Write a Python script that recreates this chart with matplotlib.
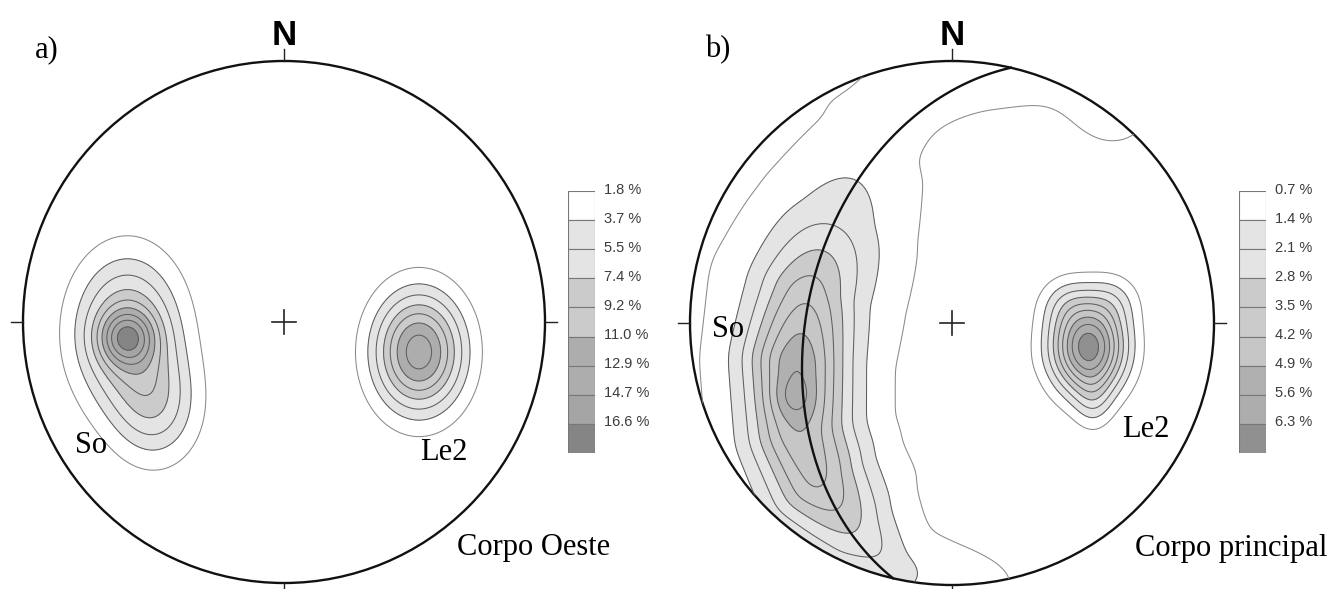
import numpy as np
import matplotlib.pyplot as plt
from matplotlib.patches import Circle

# contour levels (%) shown in the two legends
levels_a = [1.8, 3.7, 5.5, 7.4, 9.2, 11.0, 12.9, 14.7, 16.6]
levels_b = [0.7, 1.4, 2.1, 2.8, 3.5, 4.2, 4.9, 5.6, 6.3]
shades_a = ['#ffffff', '#e4e4e4', '#e4e4e4', '#cbcbcb', '#cbcbcb', '#adadad', '#adadad', '#a5a5a5', '#858585']
shades_b = ['#ffffff', '#e4e4e4', '#e4e4e4', '#cbcbcb', '#cbcbcb', '#c6c6c6', '#b0b0b0', '#adadad', '#909090']

# pole concentrations, a) Corpo Oeste (equal-area net, unit radius)
a_x = [-0.602, -0.60, -0.49, 0.517]
a_y = [-0.061, -0.04, -0.33, -0.115]
a_amp = [7.5, 10.0, 5.5, 14.0]
a_sx = [0.07, 0.14, 0.115, 0.12]
a_sy = [0.07, 0.20, 0.15, 0.16]

# pole concentrations, b) Corpo principal (Le2 maximum + edge wrap of the girdle)
b_x = [0.521, 0.43, 0.62, 0.54, -0.609, 0.25, 0.62, 0.08]
b_y = [-0.092, 0.08, 0.09, -0.30, -0.284, 1.0, 0.82, -1.0]
b_amp = [6.7, 0.9, 0.9, 1.0, 0.8, 1.1, 1.0, 0.55]
b_sx = [0.10, 0.07, 0.07, 0.05, 0.06, 0.30, 0.13, 0.20]
b_sy = [0.125, 0.07, 0.07, 0.08, 0.06, 0.15, 0.13, 0.10]

# So girdle in b): axis of the band, peak density and widths along it
gird_x = [-0.05, -0.300, -0.430, -0.550, -0.590, -0.580, -0.510, -0.364, -0.218]
gird_y = [0.980, 0.701, 0.414, 0.115, -0.142, -0.414, -0.605, -0.797, -0.939]
gird_core = [0.0, 0.0, 0.8, 3.0, 4.6, 3.9, 3.4, 1.9, 0.8]
gird_core_w = [0.12, 0.13, 0.15, 0.13, 0.13, 0.13, 0.13, 0.11, 0.07]
gird_halo = [0.5, 0.95, 1.0, 1.0, 1.0, 1.0, 1.0, 0.9, 0.8]
gird_halo_w = [0.2, 0.26, 0.33, 0.42, 0.38, 0.366, 0.37, 0.39, 0.30]

# mean So plane (great circle) in b)
plane_strike = 193
plane_dip = 44


def gauss(X, Y, x0, y0, amp, sx, sy):
    return amp * np.exp(-0.5 * (((X - x0) / sx) ** 2 + ((Y - y0) / sy) ** 2))


def ridge(X, Y, px, py, core, core_w, halo, halo_w):
    px, py = np.asarray(px), np.asarray(py)
    seg = np.hypot(np.diff(px), np.diff(py))
    cum = np.concatenate([[0], np.cumsum(seg)])
    best = np.full(X.shape, np.inf)
    s = np.zeros(X.shape)
    for i in range(len(px) - 1):
        ax_, ay_ = px[i + 1] - px[i], py[i + 1] - py[i]
        t = ((X - px[i]) * ax_ + (Y - py[i]) * ay_) / (ax_ ** 2 + ay_ ** 2)
        t = np.clip(t, 0, 1)
        d2 = (X - px[i] - t * ax_) ** 2 + (Y - py[i] - t * ay_) ** 2
        m = d2 < best
        best[m] = d2[m]
        s[m] = cum[i] + t[m] * seg[i]
    c = np.interp(s, cum, core)
    cw = np.interp(s, cum, core_w)
    h = np.interp(s, cum, halo)
    hw = np.interp(s, cum, halo_w)
    return c * np.exp(-best / (2 * cw ** 2)) + h * np.exp(-best / (2 * hw ** 2))


def smooth(Z, n):
    k = np.exp(-0.5 * (np.arange(-3 * n, 3 * n + 1) / n) ** 2)
    k /= k.sum()
    Z = np.apply_along_axis(lambda r: np.convolve(r, k, mode='same'), 0, Z)
    return np.apply_along_axis(lambda r: np.convolve(r, k, mode='same'), 1, Z)


def great_circle(strike, dip):
    dd = np.radians(strike + 90)
    sv = np.array([np.sin(np.radians(strike)), np.cos(np.radians(strike)), 0.0])
    dv = np.array([np.cos(np.radians(dip)) * np.sin(dd), np.cos(np.radians(dip)) * np.cos(dd), np.sin(np.radians(dip))])
    th = np.linspace(0, np.pi, 200)
    v = np.outer(np.cos(th), sv) + np.outer(np.sin(th), dv)
    plunge = np.arcsin(np.clip(v[:, 2], -1, 1))
    trend = np.arctan2(v[:, 0], v[:, 1])
    r = np.sqrt(2) * np.sin((np.pi / 2 - plunge) / 2)
    return r * np.sin(trend), r * np.cos(trend)


g = np.linspace(-1.1, 1.1, 441)
X, Y = np.meshgrid(g, g)

Za = np.zeros_like(X)
for i in range(len(a_x)):
    Za += gauss(X, Y, a_x[i], a_y[i], a_amp[i], a_sx[i], a_sy[i])

Zb = ridge(X, Y, gird_x, gird_y, gird_core, gird_core_w, gird_halo, gird_halo_w)
Zb = smooth(Zb, 5)
for i in range(len(b_x)):
    Zb += gauss(X, Y, b_x[i], b_y[i], b_amp[i], b_sx[i], b_sy[i])

W, H = 1336, 589
fig = plt.figure(figsize=(W / 100, H / 100), dpi=100)
serif = 'Liberation Serif'
sans = 'Liberation Sans'


def net(cx, cy, R, Z, levels, shades):
    L = 1.12
    ax = fig.add_axes([(cx - L * R) / W, (H - cy - L * R) / H, 2 * L * R / W, 2 * L * R / H])
    ax.set_xlim(-L, L)
    ax.set_ylim(-L, L)
    ax.axis('off')
    clip = Circle((0, 0), 1, transform=ax.transData)
    cf = ax.contourf(X, Y, Z, levels=levels[1:] + [100], colors=shades[1:])
    cf.set_clip_path(clip)
    cl = ax.contour(X, Y, Z, levels=levels, colors=['#8a8a8a'] + ['#5e5e5e'] * 8, linewidths=0.75)
    cl.set_clip_path(clip)
    ax.add_patch(Circle((0, 0), 1, fill=False, lw=1.7, color='#111111'))
    k = 0.047
    for x0, y0, x1, y1 in [(0, 1, 0, 1 + k), (-1, 0, -1 - k, 0), (1, 0, 1 + k, 0), (0, -1, 0, -1 - k)]:
        ax.plot([x0, x1], [y0, y1], color='#222222', lw=1.0, clip_on=False)
    ax.plot([-k, k], [0, 0], color='#222222', lw=1.2)
    ax.plot([0, 0], [-k, k], color='#222222', lw=1.2)
    ax.text(0, 1.06, 'N', ha='center', va='baseline', fontsize=25, fontweight='bold', family=sans)
    return ax


def legend(x0, levels, shades):
    lax = fig.add_axes([x0 / W, (H - 453) / H, 27 / W, 262 / H])
    for i in range(len(levels)):
        lax.bar(0.5, 1, bottom=i, width=1, color=shades[i], edgecolor='#777777', linewidth=0.8)
        lax.text(1.35, i - 0.05, f'{levels[i]:.1f} %', ha='left', va='center', fontsize=10.5,
                 family=sans, color='#3c3c3c', clip_on=False)
    lax.set_xlim(0, 1)
    lax.set_ylim(len(levels), 0)
    lax.axis('off')


ax_a = net(284, 322, 261, Za, levels_a, shades_a)
ax_a.text(-0.954, 1.015, 'a)', fontsize=22, family=serif)
ax_a.text(-0.80, -0.502, 'So', fontsize=22, family=serif)
ax_a.text(0.521, -0.529, 'Le2', fontsize=22, family=serif)
ax_a.text(0.663, -0.893, 'Corpo Oeste', fontsize=22, family=serif, clip_on=False)
legend(568, levels_a, shades_a)

ax_b = net(952, 323, 262, Zb, levels_b, shades_b)
gx, gy = great_circle(plane_strike, plane_dip)
ax_b.plot(gx, gy, color='#111111', lw=1.7)
ax_b.text(-0.943, 1.015, 'b)', fontsize=22, family=serif)
ax_b.text(-0.916, -0.053, 'So', fontsize=22, family=serif)
ax_b.text(0.649, -0.435, 'Le2', fontsize=22, family=serif)
ax_b.text(0.698, -0.888, 'Corpo principal', fontsize=22, family=serif, clip_on=False)
legend(1239, levels_b, shades_b)

fig.savefig('out.png', dpi=100)
